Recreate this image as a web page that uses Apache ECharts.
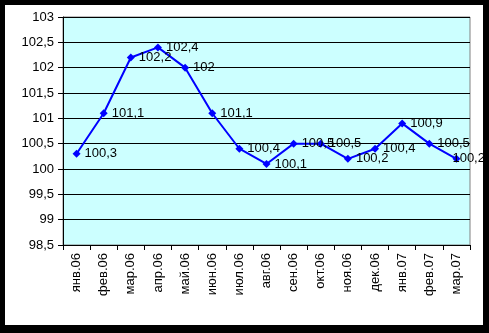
<!DOCTYPE html>
<html><head><meta charset="utf-8">
<script src="https://cdn.jsdelivr.net/npm/echarts@6/dist/echarts.min.js"></script>
<style>
html,body{margin:0;padding:0;background:#000;width:489px;height:333px;overflow:hidden}
#c{position:absolute;left:5px;top:5px;width:478px;height:320px;background:#fff}
</style></head><body><div id="c"></div>
<script>
const categories = ['янв.06','фев.06','мар.06','апр.06','май.06','июн.06','июл.06','авг.06','сен.06','окт.06','ноя.06','дек.06','янв.07','фев.07','мар.07'];
const values = [100.3,101.1,102.2,102.4,102,101.1,100.4,100.1,100.5,100.5,100.2,100.4,100.9,100.5,100.2];
const yMin = 98.5, yMax = 103, yStep = 0.5;
const fmt = v => String(+v.toFixed(1)).replace('.', ',');
const font = '"Liberation Sans", Arial, sans-serif';
const chart = echarts.init(document.getElementById('c'), null, {renderer:'canvas'});
chart.setOption({
  animation:false,
  grid:{left:58,top:12,right:13,bottom:80,show:true,backgroundColor:'#CCFFFF',borderColor:'#808080',borderWidth:1},
  xAxis:{type:'category',data:categories,boundaryGap:true,
    axisLine:{lineStyle:{color:'#000',width:1}},
    axisTick:{show:true,length:5,alignWithLabel:false,lineStyle:{color:'#000'}},
    axisLabel:{rotate:90,interval:0,margin:8,color:'#000',fontFamily:font,fontSize:13}
  },
  yAxis:{type:'value',min:yMin,max:yMax,interval:yStep,
    axisLine:{show:true,lineStyle:{color:'#000',width:1}},
    axisTick:{show:true,length:5,lineStyle:{color:'#000'}},
    splitLine:{show:true,lineStyle:{color:'#000',width:1}},
    axisLabel:{margin:9,color:'#000',fontFamily:font,fontSize:13,formatter:fmt}
  },
  series:[{type:'line',data:values,symbol:'diamond',symbolSize:8,
    lineStyle:{color:'#0000FF',width:2},itemStyle:{color:'#0000FF'},
    label:{show:true,position:'right',distance:4,color:'#000',fontFamily:font,fontSize:13,formatter:p=>fmt(p.value)},
    labelLayout:p => p.dataIndex === values.length-1 ? {dx:-12} : {}
  }]
});
</script></body></html>
